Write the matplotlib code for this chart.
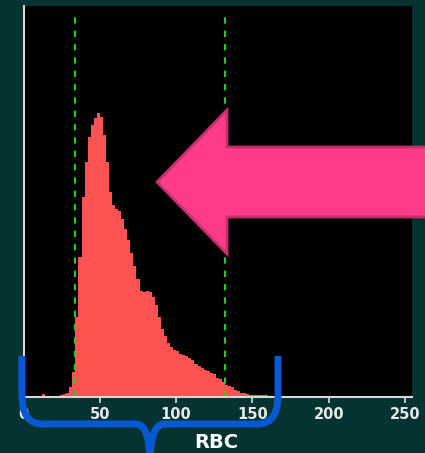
import numpy as np
import matplotlib
matplotlib.use("Agg")
import matplotlib.pyplot as plt
from matplotlib.path import Path
from matplotlib.patches import PathPatch, Polygon
from matplotlib.transforms import Affine2D, IdentityTransform

# RBC volume histogram, counts per 2-channel bin starting at channel 0
BinWidth = 2
RBCCounts = [0, 0, 0, 0, 0, 0, 3, 0, 0, 0, 0, 0, 2, 3, 4, 10, 25, 80, 140, 200,
             235, 260, 272, 279, 284, 280, 262, 235, 205, 192, 188, 186, 178, 168,
             157, 144, 131, 118, 106, 105, 106, 105, 100, 92, 80, 68, 61, 54, 50,
             47, 46, 43, 42, 41, 39, 37, 33, 31, 29, 27, 26, 24, 23, 19, 18, 15,
             12, 11, 10, 7, 6, 4, 4, 3, 2, 2, 2, 2, 2, 2, 1]
Gates = [34, 132]                      # discriminator lines
XTicks = [0, 50, 100, 150, 200, 250]
XLabel = "RBC"

W, H = 425, 453
BG = "#043331"

fig = plt.figure(figsize=(W / 100, H / 100), dpi=100, facecolor=BG)
ax = fig.add_axes([23.5 / W, 56 / H, 388.5 / W, 391 / H])
ax.set_facecolor("black")

edges = np.arange(len(RBCCounts) + 1) * BinWidth
ax.stairs(RBCCounts, edges, fill=True, color="#ff5252", linewidth=0)

for g in Gates:
    ax.axvline(g, ymin=0, ymax=0.98, color="#19d419", linewidth=1.5,
               linestyle=(0, (3, 3.4)))

ax.set_xlim(0, 254.5)
ax.set_ylim(0, 391)
ax.set_yticks([])
ax.set_xticks(XTicks)
ax.set_xticklabels([str(t) for t in XTicks])
for lbl in ax.get_xticklabels():
    lbl.set_family(["Liberation Sans Narrow", "DejaVu Sans"])
    lbl.set_fontweight("bold")
    lbl.set_fontsize(10.5)
    lbl.set_color("#e8e8e8")
ax.tick_params(axis="x", direction="out", length=4, width=1.2, color="#e0e0e0", pad=3)

for side in ["top", "right"]:
    ax.spines[side].set_visible(False)
for side in ["left", "bottom"]:
    ax.spines[side].set_color("#d8d8d8")
    ax.spines[side].set_linewidth(1.5)

fig.text(216 / W, 1 - 442 / H, XLabel, ha="center", va="center", color="white",
         fontsize=14, fontweight="bold", family="DejaVu Sans")

# pixel coordinates measured from the top-left corner
px = Affine2D().scale(1, -1).translate(0, H) + IdentityTransform()

# big pointer arrow
arrow = Polygon([(157, 182), (227, 110), (227, 147), (440, 147), (440, 217),
                 (227, 217), (227, 254)], closed=True, facecolor="#ff3b8a",
                edgecolor="#c42f6c", linewidth=2, transform=px, zorder=10)
fig.patches.append(arrow)

# curly brace under the axis
verts = [(22, 356), (22, 395),
         (22, 424), (42, 424),
         (136, 424),
         (149, 424), (150, 460),
         (151, 424), (164, 424),
         (258, 424),
         (278, 424), (278, 395),
         (278, 356)]
codes = [Path.MOVETO, Path.LINETO,
         Path.CURVE3, Path.CURVE3,
         Path.LINETO,
         Path.CURVE3, Path.CURVE3,
         Path.CURVE3, Path.CURVE3,
         Path.LINETO,
         Path.CURVE3, Path.CURVE3,
         Path.LINETO]
brace = PathPatch(Path(verts, codes), facecolor="none", edgecolor="#0758d2",
                  linewidth=5, capstyle="butt", joinstyle="round",
                  transform=px, zorder=10)
fig.patches.append(brace)

fig.savefig("out.png", dpi=100, facecolor=BG)
